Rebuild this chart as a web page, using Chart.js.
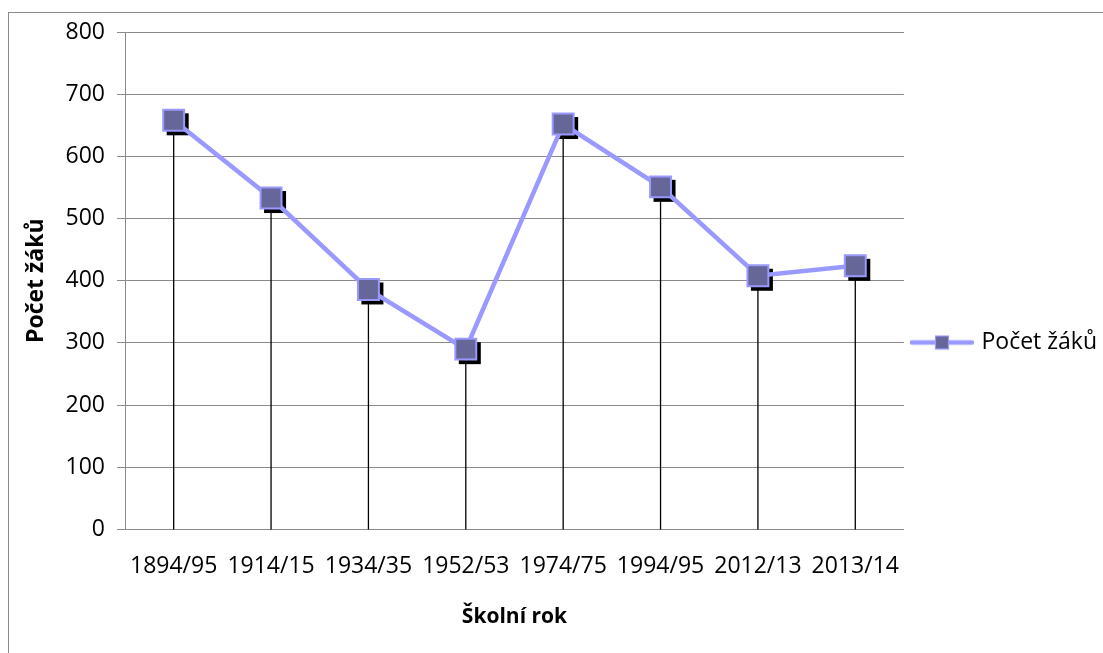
<!DOCTYPE html>
<html lang="cs">
<head>
<meta charset="UTF-8">
<title>Počet žáků</title>
<script src="https://cdn.jsdelivr.net/npm/chart.js"></script>
<style>
  body { margin: 0; background: #fff; }
  #frame { position: absolute; left: 8px; top: 12px; width: 1200px; height: 700px;
           border-left: 1px solid #8a8a8a; border-top: 1px solid #8a8a8a; }
  canvas { position: absolute; left: 0; top: 0; }
</style>
</head>
<body>
<div id="frame"></div>
<canvas id="chart" width="1103" height="653"></canvas>
<script>
// školní roky a počty žáků
const skolniRoky = ['1894/95', '1914/15', '1934/35', '1952/53', '1974/75', '1994/95', '2012/13', '2013/14'];
const pocetZaku = [658, 533, 386, 290, 652, 551, 408, 424];
const osaY = { min: 0, max: 800, krok: 100 };

const lineColor = '#9999ff';
const markerColor = '#666699';
const font = "'Open Sans', sans-serif";

// legenda: čára se čtverečkem uprostřed
function legendSymbol() {
  const c = document.createElement('canvas');
  c.width = 66; c.height = 16;
  const g = c.getContext('2d');
  g.strokeStyle = lineColor;
  g.lineWidth = 4.5;
  g.lineCap = 'round';
  g.beginPath(); g.moveTo(3, 8); g.lineTo(63, 8); g.stroke();
  g.fillStyle = markerColor;
  g.fillRect(26.5, 1.5, 13, 13);
  g.strokeStyle = lineColor;
  g.lineWidth = 1.2;
  g.strokeRect(26.5, 1.5, 13, 13);
  return c;
}

// svislé spojnice a stíny značek
const dropLines = {
  id: 'dropLines',
  beforeDatasetsDraw(chart) {
    const ctx = chart.ctx;
    const meta = chart.getDatasetMeta(0);
    const y0 = chart.scales.y.getPixelForValue(0);
    ctx.save();
    ctx.strokeStyle = '#000';
    ctx.lineWidth = 1.3;
    meta.data.forEach(p => {
      ctx.beginPath();
      ctx.moveTo(p.x, p.y);
      ctx.lineTo(p.x, y0);
      ctx.stroke();
    });
    ctx.fillStyle = '#000';
    meta.data.forEach(p => {
      const s = 11;
      ctx.fillRect(p.x - s + 4, p.y - s + 4, 2 * s, 2 * s);
    });
    ctx.restore();
  }
};

new Chart(document.getElementById('chart'), {
  type: 'line',
  data: {
    labels: skolniRoky,
    datasets: [{
      label: 'Počet žáků',
      data: pocetZaku,
      borderColor: lineColor,
      borderWidth: 4.5,
      tension: 0,
      pointStyle: 'rect',
      pointRadius: 14.8,
      pointBackgroundColor: markerColor,
      pointBorderColor: lineColor,
      pointBorderWidth: 2
    }]
  },
  options: {
    responsive: false,
    animation: false,
    layout: { padding: { top: 32, right: -4, bottom: 0, left: 0 } },
    scales: {
      x: {
        offset: true,
        grid: { display: false, drawTicks: false },
        border: { display: true, color: '#8a8a8a' },
        ticks: { color: '#000', font: { family: font, size: 23 }, padding: 23, maxRotation: 0, autoSkip: false },
        title: { display: true, text: 'Školní rok', color: '#000', font: { family: font, size: 21, weight: 'bold' }, padding: { top: 0, bottom: 23 } },
        afterFit(scale) { scale.height = 123.5; }
      },
      y: {
        min: osaY.min,
        max: osaY.max,
        grid: { color: '#8a8a8a', tickLength: 8 },
        border: { color: '#8a8a8a' },
        ticks: { stepSize: osaY.krok, color: '#000', font: { family: font, size: 23 }, padding: 12 },
        title: { display: true, text: 'Počet žáků', color: '#000', font: { family: font, size: 23, weight: 'bold' }, padding: { top: 23, bottom: 0 } },
        afterFit(scale) { scale.width = 125; }
      }
    },
    plugins: {
      legend: {
        position: 'right',
        labels: {
          usePointStyle: true,
          pointStyleWidth: 56,
          color: '#000',
          font: { family: font, size: 23 },
          padding: 10,
          generateLabels(chart) {
            const items = Chart.defaults.plugins.legend.labels.generateLabels(chart);
            items.forEach(it => { it.pointStyle = legendSymbol(); });
            return items;
          }
        }
      },
      tooltip: { enabled: false }
    }
  },
  plugins: [dropLines]
});
</script>
</body>
</html>
